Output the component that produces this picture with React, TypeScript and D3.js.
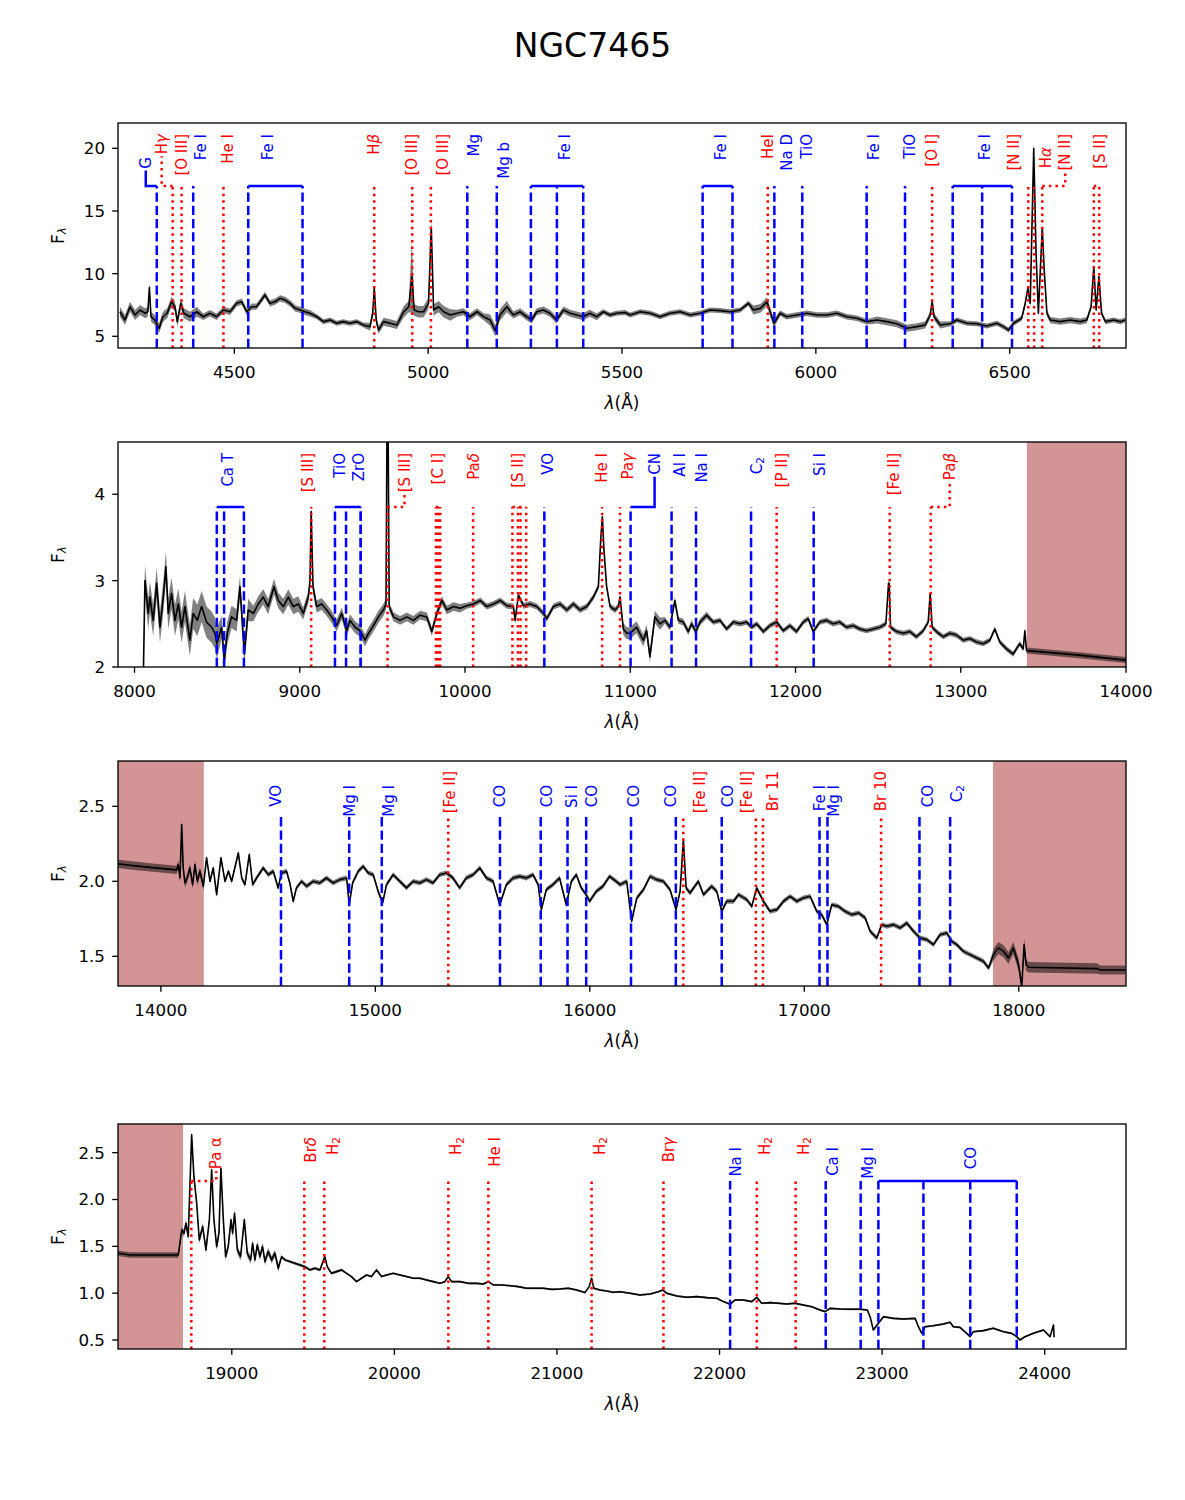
import React from 'react';
import * as d3 from 'd3';

// ---------------- data ----------------
const TITLE = 'NGC7465';

// Panel 1: optical spectrum [wavelength (Å), flux]
const SPEC_1: [number, number][] = [
  [4205, 6.96], [4218, 6.3], [4231, 7.36], [4244, 6.7], [4257, 7.1], [4270, 6.84], [4277, 6.96], [4281, 8.9],
  [4285, 6.56], [4295, 6.3], [4306, 5.64], [4316, 6.56], [4327, 6.84], [4338, 7.76], [4347, 7.36], [4353, 6.17],
  [4362, 7.63], [4370, 6.84], [4386, 6.56], [4403, 6.96], [4420, 6.56], [4437, 6.84], [4454, 6.56], [4472, 7.1],
  [4489, 6.96], [4506, 7.63], [4519, 7.76], [4532, 6.96], [4545, 7.36], [4557, 7.36], [4570, 7.9], [4579, 8.3],
  [4592, 7.63], [4605, 7.76], [4618, 8.03], [4631, 7.9], [4644, 7.63], [4657, 7.23], [4670, 7.1], [4682, 6.96],
  [4695, 6.84], [4713, 6.56], [4730, 6.17], [4747, 6.3], [4764, 6.04], [4781, 6.17], [4798, 6.04], [4816, 6.17],
  [4833, 5.9], [4850, 5.77], [4857, 6.84], [4861, 8.83], [4866, 6.3], [4872, 5.5], [4885, 6.17], [4902, 6.04],
  [4919, 5.9], [4937, 6.96], [4950, 7.36], [4958, 9.76], [4964, 7.1], [4975, 6.96], [4988, 6.96], [5001, 7.63],
  [5008, 13.7], [5014, 7.1], [5027, 7.36], [5040, 6.96], [5057, 6.7], [5074, 6.84], [5091, 6.96], [5108, 6.56],
  [5126, 6.96], [5143, 6.56], [5160, 6.3], [5173, 5.46], [5185, 6.7], [5203, 7.36], [5220, 6.7], [5237, 6.96],
  [5254, 6.56], [5267, 6.3], [5280, 6.96], [5297, 7.1], [5314, 6.84], [5331, 6.3], [5349, 7.1], [5366, 6.84],
  [5383, 6.7], [5400, 6.56], [5417, 6.84], [5435, 6.56], [5452, 6.96], [5469, 6.7], [5486, 6.84], [5508, 6.9],
  [5521, 6.7], [5547, 6.96], [5573, 6.84], [5598, 6.56], [5624, 6.84], [5650, 6.96], [5676, 6.7], [5701, 6.84],
  [5727, 7.1], [5753, 7.05], [5779, 6.96], [5805, 7.1], [5826, 7.63], [5839, 7.1], [5857, 7.23], [5874, 7.76],
  [5882, 6.96], [5892, 6.04], [5908, 6.84], [5925, 6.56], [5951, 6.7], [5977, 6.84], [6003, 6.7], [6029, 6.7],
  [6054, 6.84], [6080, 6.56], [6106, 6.44], [6132, 6.17], [6158, 6.3], [6183, 6.17], [6209, 6.0], [6235, 5.64],
  [6261, 5.77], [6282, 5.9], [6295, 6.7], [6300, 7.76], [6305, 6.56], [6321, 5.9], [6347, 6.0], [6364, 6.3],
  [6390, 6.04], [6415, 6.0], [6441, 5.82], [6467, 6.04], [6484, 5.77], [6497, 5.5], [6510, 6.04], [6531, 6.44],
  [6540, 7.63], [6547, 8.83], [6553, 7.63], [6562, 20.0], [6568, 11.62], [6574, 6.84], [6579, 10.29], [6584, 13.62],
  [6589, 10.29], [6596, 6.84], [6605, 6.3], [6630, 6.17], [6656, 6.3], [6682, 6.17], [6699, 6.3], [6710, 7.36],
  [6717, 10.55], [6723, 7.1], [6730, 9.76], [6737, 6.84], [6747, 6.17], [6768, 6.3], [6785, 6.17], [6798, 6.3],
];
// flux uncertainty, constant from each wavelength onward
const ERR_1: [number, number][] = [
  [4200, 0.4], [4420, 0.25], [4700, 0.2], [4845, 0.32], [4935, 0.45], [4955, 2.9], [4962, 0.45], [5004, 0.6],
  [5012, 0.45], [5060, 0.28], [5150, 0.45], [5210, 0.28], [5450, 0.2], [5830, 0.35], [5900, 0.22], [6150, 0.28],
  [6330, 0.2], [6540, 0.25], [6560, 0.5], [6570, 0.25], [6700, 0.2],
];

// Panel 2
const SPEC_2: [number, number][] = [
  [8050, 1.5], [8063, 3.0], [8083, 2.62], [8093, 2.81], [8113, 2.54], [8134, 2.97], [8154, 2.46], [8174, 2.81],
  [8190, 3.16], [8204, 2.62], [8224, 2.85], [8245, 2.54], [8265, 2.73], [8285, 2.46], [8305, 2.7], [8335, 2.31],
  [8355, 2.62], [8380, 2.54], [8406, 2.7], [8436, 2.52], [8467, 2.46], [8487, 2.39], [8498, 2.27], [8527, 2.46],
  [8543, 2.08], [8561, 2.39], [8587, 2.58], [8618, 2.54], [8638, 2.93], [8654, 2.46], [8665, 2.15], [8688, 2.66],
  [8719, 2.62], [8749, 2.73], [8779, 2.81], [8809, 2.7], [8844, 2.93], [8870, 2.77], [8900, 2.7], [8931, 2.81],
  [8961, 2.7], [8991, 2.73], [9021, 2.62], [9052, 2.81], [9062, 3.0], [9069, 3.8], [9080, 2.93], [9102, 2.7],
  [9132, 2.73], [9163, 2.66], [9193, 2.58], [9223, 2.48], [9254, 2.62], [9284, 2.42], [9304, 2.54], [9335, 2.46],
  [9365, 2.42], [9395, 2.31], [9416, 2.39], [9446, 2.48], [9476, 2.58], [9506, 2.66], [9522, 2.73], [9531, 6.0],
  [9541, 2.7], [9567, 2.58], [9607, 2.54], [9648, 2.58], [9688, 2.54], [9728, 2.6], [9769, 2.58], [9799, 2.41],
  [9829, 2.62], [9860, 2.77], [9890, 2.66], [9930, 2.7], [9970, 2.68], [10011, 2.71], [10051, 2.73], [10092, 2.77],
  [10132, 2.7], [10172, 2.73], [10213, 2.77], [10253, 2.71], [10293, 2.7], [10303, 2.54], [10323, 2.83], [10354, 2.71],
  [10394, 2.73], [10434, 2.7], [10475, 2.62], [10495, 2.56], [10535, 2.7], [10575, 2.73], [10616, 2.66], [10656, 2.73],
  [10696, 2.66], [10737, 2.7], [10777, 2.81], [10807, 2.93], [10821, 3.47], [10831, 3.74], [10841, 3.35], [10857, 2.93],
  [10878, 2.7], [10908, 2.66], [10928, 2.7], [10938, 2.81], [10958, 2.44], [10979, 2.39], [10998, 2.39], [11038, 2.46],
  [11079, 2.31], [11099, 2.42], [11119, 2.12], [11149, 2.58], [11180, 2.5], [11210, 2.54], [11240, 2.46], [11270, 2.77],
  [11291, 2.54], [11321, 2.52], [11351, 2.41], [11371, 2.5], [11397, 2.41], [11422, 2.52], [11462, 2.6], [11503, 2.52],
  [11543, 2.54], [11583, 2.44], [11624, 2.52], [11664, 2.5], [11704, 2.52], [11734, 2.46], [11765, 2.5], [11805, 2.41],
  [11845, 2.48], [11886, 2.52], [11926, 2.42], [11966, 2.48], [12006, 2.41], [12047, 2.52], [12077, 2.56], [12107, 2.41],
  [12147, 2.52], [12188, 2.54], [12228, 2.5], [12268, 2.52], [12309, 2.46], [12349, 2.48], [12389, 2.44], [12430, 2.42],
  [12470, 2.44], [12510, 2.46], [12547, 2.5], [12563, 2.97], [12567, 2.97], [12575, 2.46], [12611, 2.41], [12652, 2.39],
  [12692, 2.41], [12732, 2.35], [12773, 2.42], [12803, 2.52], [12815, 2.85], [12827, 2.46], [12853, 2.41], [12894, 2.35],
  [12934, 2.39], [12974, 2.37], [13015, 2.31], [13055, 2.33], [13095, 2.29], [13136, 2.27], [13176, 2.31], [13206, 2.44],
  [13236, 2.29], [13277, 2.21], [13317, 2.15], [13357, 2.27], [13378, 2.21], [13388, 2.42], [13398, 2.19], [13700, 2.14],
  [14000, 2.08],
];
const ERR_2: [number, number][] = [
  [7900, 0.18], [8520, 0.13], [8700, 0.09], [9000, 0.07], [9530, 0.05], [10000, 0.035], [10940, 0.07], [11200, 0.04],
  [11500, 0.03], [13390, 0.035],
];

// Panel 3
const SPEC_3: [number, number][] = [
  [13800, 2.116], [13856, 2.107], [13949, 2.093], [14073, 2.076], [14081, 2.111], [14089, 2.022], [14097, 2.378], [14104, 2.089],
  [14112, 1.989], [14123, 2.022], [14135, 2.089], [14148, 1.978], [14159, 2.111], [14170, 2.0], [14182, 2.067], [14198, 1.967],
  [14213, 2.156], [14229, 2.0], [14244, 2.089], [14260, 1.911], [14280, 2.156], [14299, 2.0], [14315, 2.067], [14330, 2.0],
  [14361, 2.189], [14377, 2.022], [14392, 1.978], [14412, 2.178], [14428, 1.978], [14446, 2.022], [14477, 2.089], [14501, 2.044],
  [14524, 2.067], [14547, 1.956], [14562, 2.056], [14586, 2.067], [14601, 1.989], [14617, 1.867], [14632, 1.956], [14656, 2.0],
  [14679, 1.967], [14710, 2.0], [14741, 1.989], [14772, 2.022], [14803, 1.989], [14834, 2.011], [14866, 2.022], [14878, 1.844],
  [14894, 1.989], [14920, 2.067], [14943, 2.1], [14967, 2.056], [14990, 2.044], [15013, 1.933], [15034, 1.856], [15052, 1.978],
  [15083, 2.044], [15114, 2.0], [15145, 1.956], [15176, 2.0], [15207, 1.989], [15238, 2.011], [15269, 1.989], [15300, 2.044],
  [15331, 2.056], [15362, 2.022], [15393, 1.956], [15424, 2.022], [15456, 2.044], [15487, 2.089], [15518, 2.022], [15549, 2.0],
  [15580, 1.844], [15611, 1.978], [15642, 2.022], [15673, 2.033], [15704, 2.022], [15735, 2.044], [15759, 1.978], [15774, 1.811],
  [15797, 1.944], [15828, 1.978], [15859, 2.022], [15890, 1.844], [15914, 2.0], [15937, 2.044], [15960, 1.956], [15983, 1.911],
  [15999, 1.867], [16030, 1.933], [16061, 1.967], [16092, 2.033], [16123, 2.0], [16141, 1.978], [16172, 2.0], [16195, 1.733],
  [16219, 1.889], [16250, 1.944], [16281, 2.033], [16312, 2.011], [16343, 2.0], [16374, 1.944], [16402, 1.811], [16421, 1.933],
  [16436, 2.278], [16449, 1.956], [16467, 1.922], [16506, 2.0], [16530, 1.911], [16568, 1.967], [16592, 1.933], [16615, 1.8],
  [16638, 1.867], [16670, 1.867], [16693, 1.911], [16732, 1.878], [16755, 1.833], [16778, 1.956], [16809, 1.867], [16840, 1.8],
  [16872, 1.811], [16903, 1.867], [16934, 1.9], [16965, 1.867], [16996, 1.889], [17027, 1.9], [17058, 1.8], [17081, 1.778],
  [17105, 1.711], [17128, 1.844], [17159, 1.833], [17190, 1.8], [17221, 1.778], [17253, 1.789], [17284, 1.756], [17307, 1.667],
  [17338, 1.622], [17361, 1.711], [17385, 1.7], [17416, 1.711], [17447, 1.689], [17478, 1.722], [17509, 1.667], [17540, 1.622],
  [17571, 1.611], [17602, 1.578], [17633, 1.644], [17664, 1.656], [17688, 1.6], [17711, 1.578], [17742, 1.533], [17773, 1.511],
  [17804, 1.489], [17835, 1.467], [17859, 1.422], [17882, 1.511], [17905, 1.556], [17929, 1.533], [17952, 1.489], [17975, 1.556],
  [17999, 1.444], [18014, 1.3], [18025, 1.578], [18034, 1.444], [18045, 1.427], [18364, 1.418], [18380, 1.409], [18497, 1.409],
];
const ERR_3: [number, number][] = [
  [13800, 0.028], [14200, 0.016], [17880, 0.04], [18040, 0.035], [18380, 0.03],
];

// Panel 4
const SPEC_4: [number, number][] = [
  [18300, 1.426], [18374, 1.408], [18671, 1.408], [18692, 1.675], [18706, 1.64], [18718, 1.746], [18732, 1.604], [18753, 2.69],
  [18767, 2.245], [18784, 1.96], [18800, 1.568], [18821, 1.711], [18841, 1.462], [18862, 1.782], [18876, 2.316], [18890, 1.782],
  [18907, 1.497], [18921, 1.64], [18933, 2.334], [18948, 1.782], [18962, 1.39], [18978, 1.497], [18995, 1.782], [19005, 1.64],
  [19017, 1.853], [19034, 1.462], [19054, 1.39], [19077, 1.782], [19095, 1.426], [19116, 1.355], [19128, 1.533], [19142, 1.355],
  [19157, 1.515], [19173, 1.39], [19189, 1.497], [19204, 1.337], [19224, 1.444], [19245, 1.355], [19265, 1.426], [19286, 1.266],
  [19306, 1.39], [19327, 1.355], [19357, 1.337], [19388, 1.319], [19419, 1.301], [19449, 1.283], [19480, 1.248], [19511, 1.266],
  [19542, 1.248], [19572, 1.39], [19587, 1.283], [19613, 1.212], [19644, 1.23], [19675, 1.248], [19706, 1.212], [19736, 1.177],
  [19767, 1.123], [19798, 1.159], [19829, 1.194], [19859, 1.177], [19890, 1.248], [19921, 1.177], [19952, 1.194], [19993, 1.212],
  [20034, 1.194], [20075, 1.177], [20116, 1.159], [20157, 1.159], [20198, 1.141], [20239, 1.123], [20280, 1.105], [20311, 1.123],
  [20331, 1.177], [20352, 1.123], [20403, 1.123], [20454, 1.105], [20506, 1.105], [20547, 1.098], [20578, 1.123], [20608, 1.088],
  [20660, 1.088], [20711, 1.08], [20762, 1.07], [20813, 1.052], [20864, 1.052], [20916, 1.052], [20967, 1.041], [21018, 1.045],
  [21070, 1.052], [21121, 1.034], [21172, 1.006], [21198, 1.07], [21213, 1.159], [21227, 1.052], [21264, 1.034], [21305, 1.024],
  [21346, 1.009], [21388, 1.016], [21449, 0.999], [21511, 0.981], [21573, 0.991], [21624, 1.016], [21650, 1.034], [21675, 0.999],
  [21737, 0.97], [21798, 0.956], [21860, 0.963], [21921, 0.952], [21983, 0.945], [22024, 0.91], [22065, 0.881], [22095, 0.927],
  [22147, 0.927], [22198, 0.91], [22229, 0.956], [22259, 0.892], [22311, 0.899], [22362, 0.892], [22413, 0.885], [22464, 0.892],
  [22515, 0.874], [22567, 0.856], [22618, 0.821], [22649, 0.803], [22680, 0.838], [22741, 0.831], [22803, 0.828], [22864, 0.828],
  [22909, 0.821], [22926, 0.749], [22946, 0.607], [22977, 0.678], [23008, 0.749], [23069, 0.731], [23131, 0.724], [23203, 0.731],
  [23223, 0.642], [23244, 0.571], [23264, 0.642], [23315, 0.653], [23377, 0.671], [23418, 0.689], [23438, 0.642], [23479, 0.635],
  [23520, 0.571], [23541, 0.536], [23561, 0.589], [23623, 0.6], [23684, 0.625], [23746, 0.589], [23797, 0.571], [23828, 0.536],
  [23848, 0.5], [23879, 0.536], [23930, 0.571], [23992, 0.607], [24033, 0.536], [24054, 0.66], [24058, 0.53],
];
const ERR_4: [number, number][] = [
  [18300, 0.03], [18700, 0.04], [19300, 0.015], [19700, 0.01],
];

// line identifications: blue = absorption features, red = emission lines
type Feature = { name: string; w: number[] };
const ABS_1: Feature[] = [
  { name: 'G', w: [4300] }, { name: 'Fe I', w: [4394] }, { name: 'Fe I', w: [4536, 4676] }, { name: 'Mg', w: [5101] },
  { name: 'Mg b', w: [5177] }, { name: 'Fe I', w: [5265, 5332, 5400] }, { name: 'Fe I', w: [5708, 5785] },
  { name: 'Na D', w: [5893] }, { name: 'TiO', w: [5965] }, { name: 'Fe I', w: [6131] }, { name: 'TiO', w: [6230] },
  { name: 'Fe I', w: [6353, 6429, 6506] },
];
const EM_1: Feature[] = [
  { name: 'Hγ', w: [4341] }, { name: '[O III]', w: [4364] }, { name: 'He I', w: [4472] }, { name: 'Hβ', w: [4861] },
  { name: '[O III]', w: [4959] }, { name: '[O III]', w: [5007] }, { name: 'HeI', w: [5876] }, { name: '[O I]', w: [6300] },
  { name: '[N II]', w: [6548] }, { name: 'Hα', w: [6563] }, { name: '[N II]', w: [6584] }, { name: '[S II]', w: [6717, 6731] },
];
const ABS_2: Feature[] = [
  { name: 'Ca T', w: [8498, 8542, 8662] }, { name: 'TiO', w: [9213, 9280, 9369] }, { name: 'ZrO', w: [9369] },
  { name: 'VO', w: [10480] }, { name: 'CN', w: [11002] }, { name: 'Al I', w: [11250] }, { name: 'Na I', w: [11398] },
  { name: 'C₂', w: [11731] }, { name: 'Si I', w: [12110] },
];
const EM_2: Feature[] = [
  { name: '[S III]', w: [9069] }, { name: '[S III]', w: [9531] }, { name: '[C I]', w: [9824, 9838, 9850] },
  { name: 'Paδ', w: [10049] }, { name: '[S II]', w: [10287, 10320, 10336, 10370] }, { name: 'He I', w: [10830] },
  { name: 'Paγ', w: [10938] }, { name: '[P II]', w: [11886] }, { name: '[Fe II]', w: [12570] }, { name: 'Paβ', w: [12818] },
];
const ABS_3: Feature[] = [
  { name: 'VO', w: [14560] }, { name: 'Mg I', w: [14878] }, { name: 'Mg I', w: [15030] }, { name: 'CO', w: [15581] },
  { name: 'CO', w: [15771] }, { name: 'Si I', w: [15896] }, { name: 'CO', w: [15983] }, { name: 'CO', w: [16192] },
  { name: 'CO', w: [16401] }, { name: 'CO', w: [16615] }, { name: 'Fe I', w: [17071] }, { name: 'Mg I', w: [17108] },
  { name: 'CO', w: [17537] }, { name: 'C₂', w: [17680] },
];
const EM_3: Feature[] = [
  { name: '[Fe II]', w: [15340] }, { name: '[Fe II]', w: [16436] }, { name: '[Fe II]', w: [16774] },
  { name: 'Br 11', w: [16807] }, { name: 'Br 10', w: [17358] },
];
const ABS_4: Feature[] = [
  { name: 'Na I', w: [22065] }, { name: 'Ca I', w: [22653] }, { name: 'Mg I', w: [22868] },
  { name: 'CO', w: [22977, 23254, 23542, 23828] },
];
const EM_4: Feature[] = [
  { name: 'Pa α', w: [18751] }, { name: 'Brδ', w: [19446] }, { name: 'H₂', w: [19569] }, { name: 'H₂', w: [20332] },
  { name: 'He I', w: [20578] }, { name: 'H₂', w: [21213] }, { name: 'Brγ', w: [21655] }, { name: 'H₂', w: [22229] },
  { name: 'H₂', w: [22468] },
];

// masked (telluric) wavelength ranges
const MASK_1: [number, number][] = [];
const MASK_2: [number, number][] = [[13400, 14000]];
const MASK_3: [number, number][] = [[13800, 14200], [17880, 18500]];
const MASK_4: [number, number][] = [[18300, 18700]];

const XDOM_1 = [4200, 6800], XDOM_2 = [7900, 14000], XDOM_3 = [13800, 18500], XDOM_4 = [18300, 24500];
const YDOM_1 = [4.067, 22.02], YDOM_2 = [2.0, 4.605], YDOM_3 = [1.302, 2.802], YDOM_4 = [0.404, 2.806];
const XTICKS_1 = [4500, 5000, 5500, 6000, 6500];
const XTICKS_2 = [8000, 9000, 10000, 11000, 12000, 13000, 14000];
const XTICKS_3 = [14000, 15000, 16000, 17000, 18000];
const XTICKS_4 = [19000, 20000, 21000, 22000, 23000, 24000];
const YTICKS_1 = [5, 10, 15, 20];
const YTICKS_2 = [2, 3, 4];
const YTICKS_3 = [1.5, 2.0, 2.5];
const YTICKS_4 = [0.5, 1.0, 1.5, 2.0, 2.5];

// ---------------- layout ----------------
const W = 1185, H = 1500;
const AX_L = 118, AX_R = 1126, AX_H = 225;
const PANEL_TOP = [123, 442, 761, 1124];
const LINE_TOP = [63, 65, 56, 57];
const LABEL_TOP = [[11, 11], [11, 11], [10, 24], [13, 23]]; // [emission, absorption]
// label nudges in px: [dx, dy, connector]
const NUDGE: Record<string, [number, number, boolean?]> = {
  '0|G|4300': [-11, 23, true], '0|Fe I|4394': [8, 0], '0|Fe I|4536': [-7, 0], '0|Mg|5101': [7, 0],
  '0|Mg b|5177': [7, 8], '0|Fe I|5265': [8, 0], '0|Fe I|5708': [3, 0], '0|Na D|5893': [13, 0],
  '0|TiO|5965': [5, 0], '0|Fe I|6131': [7, 0], '0|TiO|6230': [5, 0], '0|Fe I|6353': [3, 0],
  '0|Hγ|4341': [-11, 0, true], '0|He I|4472': [5, 0], '0|[O III]|5007': [12, 0], '0|[N II]|6548': [-14, 0],
  '0|Hα|6563': [12, 13], '0|[N II]|6584': [23, 0, true], '0|[S II]|6717': [3, 0],
  '1|Ca T|8498': [-2, 0], '1|TiO|9213': [-8, 0], '1|ZrO|9369': [-2, 0], '1|VO|10480': [4, 0],
  '1|CN|11002': [24, 0, true], '1|Al I|11250': [8, 0], '1|Na I|11398': [6, 0], '1|C₂|11731': [6, 4],
  '1|Si I|12110': [6, 0], '1|[S III]|9069': [-3, 0], '1|[S III]|9531': [17, 0, true], '1|Paδ|10049': [1, 0],
  '1|[S II]|10287': [-1, 0], '1|Paγ|10938': [8, 0], '1|[P II]|11886': [5, 0], '1|[Fe II]|12570': [4, 0],
  '1|Paβ|12818': [19, 0, true],
  '2|VO|14560': [-5, 0], '2|Mg I|14878': [1, 0], '2|Mg I|15030': [7, 0], '2|CO|15771': [6, 0],
  '2|Si I|15896': [4, 0], '2|CO|15983': [6, 0], '2|CO|16192': [3, 0], '2|CO|16401': [-5, 0],
  '2|CO|16615': [6, 0], '2|Mg I|17108': [7, 0], '2|CO|17537': [9, 0], '2|C₂|17680': [7, 0],
  '2|[Fe II]|15340': [2, 0], '2|[Fe II]|16436': [17, 0], '2|[Fe II]|16774': [-9, 0], '2|Br 11|16807': [10, 0],
  '3|Pa α|18751': [25, 0, true], '3|Brδ|19446': [7, 0], '3|H₂|19569': [9, 0], '3|H₂|20332': [8, 0],
  '3|He I|20578': [7, 0], '3|H₂|21213': [8, 0], '3|Brγ|21655': [6, 0], '3|H₂|22229': [8, 0],
  '3|H₂|22468': [8, 0], '3|Na I|22065': [6, 0], '3|Ca I|22653': [7, 0], '3|Mg I|22868': [7, 0],
  '3|CO|22977': [23, 0],
};

const FONT = '"DejaVu Sans", sans-serif';
const BLUE = '#0000ff', RED = '#ff0000';
const LABEL_FS = 15, TICK_FS = 16.7;

const PANELS = [
  { spec: SPEC_1, err: ERR_1, abs: ABS_1, em: EM_1, mask: MASK_1, xd: XDOM_1, yd: YDOM_1, xt: XTICKS_1, yt: YTICKS_1, yf: d3.format('d') },
  { spec: SPEC_2, err: ERR_2, abs: ABS_2, em: EM_2, mask: MASK_2, xd: XDOM_2, yd: YDOM_2, xt: XTICKS_2, yt: YTICKS_2, yf: d3.format('d') },
  { spec: SPEC_3, err: ERR_3, abs: ABS_3, em: EM_3, mask: MASK_3, xd: XDOM_3, yd: YDOM_3, xt: XTICKS_3, yt: YTICKS_3, yf: d3.format('.1f') },
  { spec: SPEC_4, err: ERR_4, abs: ABS_4, em: EM_4, mask: MASK_4, xd: XDOM_4, yd: YDOM_4, xt: XTICKS_4, yt: YTICKS_4, yf: d3.format('.1f') },
];

let mctx: any = null;
function textWidth(s: string, size: number) {
  if (!mctx && typeof document !== 'undefined') mctx = document.createElement('canvas').getContext('2d');
  if (!mctx) return s.length * size * 0.6;
  mctx.font = `${size}px "DejaVu Sans"`;
  return mctx.measureText(s.replace('₂', '2')).width;
}

function errAt(steps: [number, number][], w: number) {
  let e = steps[0][1];
  for (const [s, v] of steps) { if (w >= s) e = v; else break; }
  return e;
}

function labelNodes(name: string) {
  const upright = name === 'Pa α';
  const out: any[] = [];
  let buf = '';
  Array.from(name).forEach((ch, i) => {
    if (ch === '₂') {
      if (buf) { out.push(buf); buf = ''; }
      out.push(<tspan key={i} fontSize="70%" dy="0.3em">2</tspan>);
    } else if ('αβγδ'.includes(ch) && !upright) {
      if (buf) { out.push(buf); buf = ''; }
      out.push(<tspan key={i} fontStyle="italic">{ch}</tspan>);
    } else buf += ch;
  });
  if (buf) out.push(buf);
  return out;
}

function Panel({ p, i }: { p: any; i: number }) {
  const top = PANEL_TOP[i];
  const bottom = top + AX_H;
  const x = d3.scaleLinear().domain(p.xd).range([AX_L, AX_R]);
  const y = d3.scaleLinear().domain(p.yd).range([bottom, top]);
  const line = d3.line<[number, number]>().x(d => x(d[0])).y(d => y(d[1]));
  const area = d3.area<[number, number]>()
    .x(d => x(d[0]))
    .y0(d => y(d[1] - errAt(p.err, d[0])))
    .y1(d => y(d[1] + errAt(p.err, d[0])));
  const clipId = `clip${i}`;
  const lineTopY = top + LINE_TOP[i];

  const feats: any[] = [];
  const drawFeat = (f: Feature, kind: 'abs' | 'em', k: number) => {
    const color = kind === 'abs' ? BLUE : RED;
    const dash = kind === 'abs' ? '9.3,4' : '2.5,4.1';
    const solidDash = kind === 'abs' ? undefined : dash;
    const xs = f.w.map(w => x(w));
    const x0 = d3.min(xs)!, x1 = d3.max(xs)!;
    const key = `${i}|${f.name}|${f.w[0]}`;
    const [dx, dy, conn] = NUDGE[key] || [0, 0, false];
    const lx = (x0 + x1) / 2 + dx;
    const ly = top + LABEL_TOP[i][kind === 'em' ? 0 : 1] + dy;
    const len = textWidth(f.name, LABEL_FS);
    feats.push(
      <g key={`${kind}${k}`}>
        {xs.map((xx, j) => (
          <line key={j} x1={xx} x2={xx} y1={bottom} y2={lineTopY} stroke={color} strokeWidth={2.5} strokeDasharray={dash} />
        ))}
        {xs.length > 1 && (
          <line x1={x0} x2={x1} y1={lineTopY} y2={lineTopY} stroke={color} strokeWidth={2.5} strokeDasharray={solidDash} />
        )}
        {conn && (
          <path d={`M${(x0 + x1) / 2},${lineTopY} L${lx},${lineTopY} L${lx},${ly + len + 2}`} fill="none" stroke={color}
            strokeWidth={2.5} strokeDasharray={solidDash} />
        )}
        <text transform={`translate(${lx},${ly}) rotate(-90)`} textAnchor="end" dominantBaseline="central"
          fill={color} fontSize={LABEL_FS} fontFamily={FONT}>{labelNodes(f.name)}</text>
      </g>
    );
  };
  p.abs.forEach((f: Feature, k: number) => drawFeat(f, 'abs', k));
  p.em.forEach((f: Feature, k: number) => drawFeat(f, 'em', k));

  return (
    <g>
      <defs>
        <clipPath id={clipId}><rect x={AX_L} y={top} width={AX_R - AX_L} height={AX_H} /></clipPath>
      </defs>
      <g clipPath={`url(#${clipId})`}>
        {p.mask.map((m: [number, number], k: number) => (
          <rect key={k} x={x(m[0])} y={top} width={x(m[1]) - x(m[0])} height={AX_H} fill="#a52a2a" fillOpacity={0.5} />
        ))}
        <path d={area(p.spec) || ''} fill="#000" fillOpacity={0.5} stroke="none" />
        <path d={line(p.spec) || ''} fill="none" stroke="#000" strokeWidth={1.6} strokeLinejoin="round" />
        {feats}
      </g>
      <rect x={AX_L} y={top} width={AX_R - AX_L} height={AX_H} fill="none" stroke="#000" strokeWidth={1.33} />
      {p.xt.map((t: number) => (
        <g key={`xt${t}`}>
          <line x1={x(t)} x2={x(t)} y1={bottom} y2={bottom + 5.8} stroke="#000" strokeWidth={1.33} />
          <text x={x(t)} y={bottom + 30} textAnchor="middle" fontSize={TICK_FS} fontFamily={FONT}>{t}</text>
        </g>
      ))}
      {p.yt.map((t: number) => (
        <g key={`yt${t}`}>
          <line x1={AX_L - 5.8} x2={AX_L} y1={y(t)} y2={y(t)} stroke="#000" strokeWidth={1.33} />
          <text x={AX_L - 13} y={y(t)} textAnchor="end" dominantBaseline="central" fontSize={TICK_FS} fontFamily={FONT}>{p.yf(t)}</text>
        </g>
      ))}
      <text x={(AX_L + AX_R) / 2} y={bottom + 61} textAnchor="middle" fontSize={17} fontFamily={FONT}>
        <tspan fontStyle="italic">λ</tspan>(Å)
      </text>
      <text transform={`translate(58,${top + AX_H / 2}) rotate(-90)`} textAnchor="middle" dominantBaseline="central"
        fontSize={17} fontFamily={FONT}>
        F<tspan fontSize="70%" dy="0.3em" fontStyle="italic">λ</tspan>
      </text>
    </g>
  );
}

export default function App() {
  return (
    <svg width={W} height={H} viewBox={`0 0 ${W} ${H}`} style={{ position: 'absolute', left: 0, top: 0, background: '#fff' }}>
      <rect x={0} y={0} width={W} height={H} fill="#fff" />
      <text x={W / 2} y={57} textAnchor="middle" fontSize={33} fontFamily={FONT}>{TITLE}</text>
      {PANELS.map((p, i) => <Panel key={i} p={p} i={i} />)}
    </svg>
  );
}
